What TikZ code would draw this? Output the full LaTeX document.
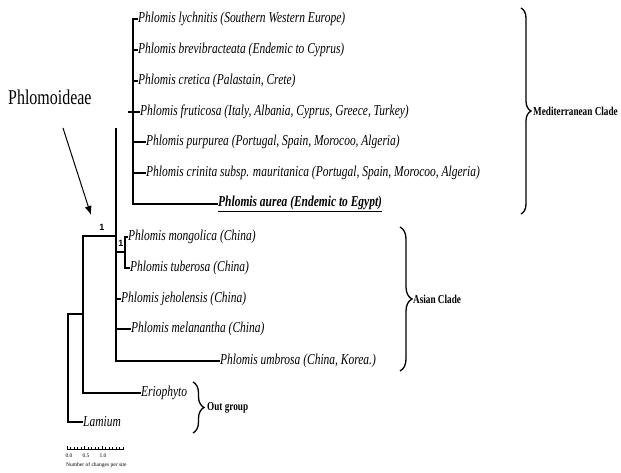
\documentclass[tikz,border=0pt]{standalone}
\usepackage{fontspec}
\setmainfont{Liberation Serif}
\setsansfont{Liberation Sans}
\newfontfamily\treefont[FakeStretch=0.76]{Liberation Serif}
\usetikzlibrary{arrows.meta,decorations.pathreplacing}

\tikzset{
    branch/.style={line width=1.5pt},
    taxon/.style={anchor=west, inner sep=0pt, font=\treefont\itshape\fontsize{15.1}{17}\selectfont},
    cladename/.style={anchor=west, inner sep=0pt, font=\treefont\bfseries\fontsize{12.1}{14}\selectfont},
    support/.style={inner sep=0pt, font=\sffamily\bfseries\fontsize{9}{10}\selectfont},
    cladebrace/.style={decorate, decoration={brace, amplitude=#1}, line width=1.3pt},
    scaletext/.style={inner sep=0pt, font=\fontsize{5.5}{6}\selectfont}
}

\begin{document}
\begin{tikzpicture}[x=1pt, y=-1pt]
    \useasboundingbox (0,0) rectangle (621,473);

    % Mediterranean clade
    \node[taxon] (lyc) at (138,19) {Phlomis lychnitis (Southern Western Europe)};
    \node[taxon] (bre) at (138,50) {Phlomis brevibracteata (Endemic to Cyprus)};
    \node[taxon] (cre) at (138,81) {Phlomis cretica (Palastain, Crete)};
    \node[taxon] (fru) at (140,112) {Phlomis fruticosa (Italy, Albania, Cyprus, Greece, Turkey)};
    \node[taxon] (pur) at (146,142) {Phlomis purpurea (Portugal, Spain, Morocoo, Algeria)};
    \node[taxon] (cri) at (146,173) {Phlomis crinita subsp. mauritanica (Portugal, Spain, Morocoo, Algeria)};
    \node[taxon, font=\treefont\bfseries\itshape\fontsize{15.1}{17}\selectfont] (aur) at (218,204) {\underline{Phlomis aurea (Endemic to Egypt)}};
    \coordinate (med) at (133,112);
    \coordinate (medstem) at (128,112);
    \draw[branch] (lyc.west) -- (med |- lyc.west) -- (med |- aur.west) -- (aur.west);
    \draw[branch] (med |- bre.west) -- (bre.west);
    \draw[branch] (med |- cre.west) -- (cre.west);
    \draw[branch] (medstem) -- (fru.west);
    \draw[branch] (med |- pur.west) -- (pur.west);
    \draw[branch] (med |- cri.west) -- (cri.west);

    % Asian clade
    \node[taxon] (mon) at (128,237) {Phlomis mongolica (China)};
    \node[taxon] (tub) at (130,268) {Phlomis tuberosa (China)};
    \node[taxon] (jeh) at (121,299) {Phlomis jeholensis (China)};
    \node[taxon] (mel) at (131,329) {Phlomis melanantha (China)};
    \node[taxon] (umb) at (220,361) {Phlomis umbrosa (China, Korea.)};
    \coordinate (phl) at (116,128);
    \coordinate (mt) at (125,252);
    \draw[branch] (phl) -- (phl |- umb.west) -- (umb.west);
    \draw[branch] (phl |- mt) -- (mt);
    \draw[branch] (mon.west) -- (mt |- mon.west) -- (mt |- tub.west) -- (tub.west);
    \draw[branch] (phl |- jeh.west) -- (jeh.west);
    \draw[branch] (phl |- mel.west) -- (mel.west);
    \node[support] (s1) at (102,227) {1};
    \node[support] (s2) at (121,243) {1};

    % out group
    \node[taxon] (eri) at (141,393) {Eriophyto};
    \node[taxon] (lam) at (83,422) {Lamium};
    \coordinate (pn) at (83,236);
    \coordinate (root) at (68,314);
    \draw[branch] (phl |- pn) -- (pn) -- (pn |- eri.west) -- (eri.west);
    \draw[branch] (root -| pn) -- (root) -- (root |- lam.west) -- (lam.west);

    % braces
    \coordinate (medA) at (521,8);
    \coordinate (medB) at (521,214);
    \coordinate (asiA) at (400,227);
    \coordinate (asiB) at (400,371);
    \coordinate (outA) at (193,382);
    \coordinate (outB) at (193,433);
    \draw[cladebrace=10pt] (medA) -- (medB);
    \draw[cladebrace=12pt] (asiA) -- (asiB);
    \draw[cladebrace=11pt] (outA) -- (outB);
    \node[cladename] (medlab) at (533,111) {Mediterranean Clade};
    \node[cladename] (asilab) at (413,299) {Asian Clade};
    \node[cladename] (outlab) at (207,408) {Out group};

    % Phlomoideae
    \node[anchor=west, inner sep=0pt, font=\treefont\fontsize{21}{23}\selectfont] (phlab) at (8,97) {Phlomoideae};
    \coordinate (arrtail) at (63,128);
    \coordinate (arrtip) at (91,215);
    \draw[line width=1pt, -{Latex[length=9pt, width=7pt]}] (arrtail) -- (arrtip);

    % scale bar
    \draw[line width=0.9pt] (67,449) -- (124,449);
    \foreach \t in {0,...,16}
        \draw[line width=0.4pt] (67+3.5*\t,449) -- (67+3.5*\t,447);
    \foreach \t in {0,5,10}
        \draw[line width=0.5pt] (67+3.5*\t,449) -- (67+3.5*\t,445.5);
    \node[scaletext] (sc0) at (69,456) {0.0};
    \node[scaletext] (sc1) at (86,456) {0.5};
    \node[scaletext] (sc2) at (103,456) {1.0};
    \node[scaletext, anchor=west] (sclab) at (66,465) {Number of changes per site};
\end{tikzpicture}
\end{document}
